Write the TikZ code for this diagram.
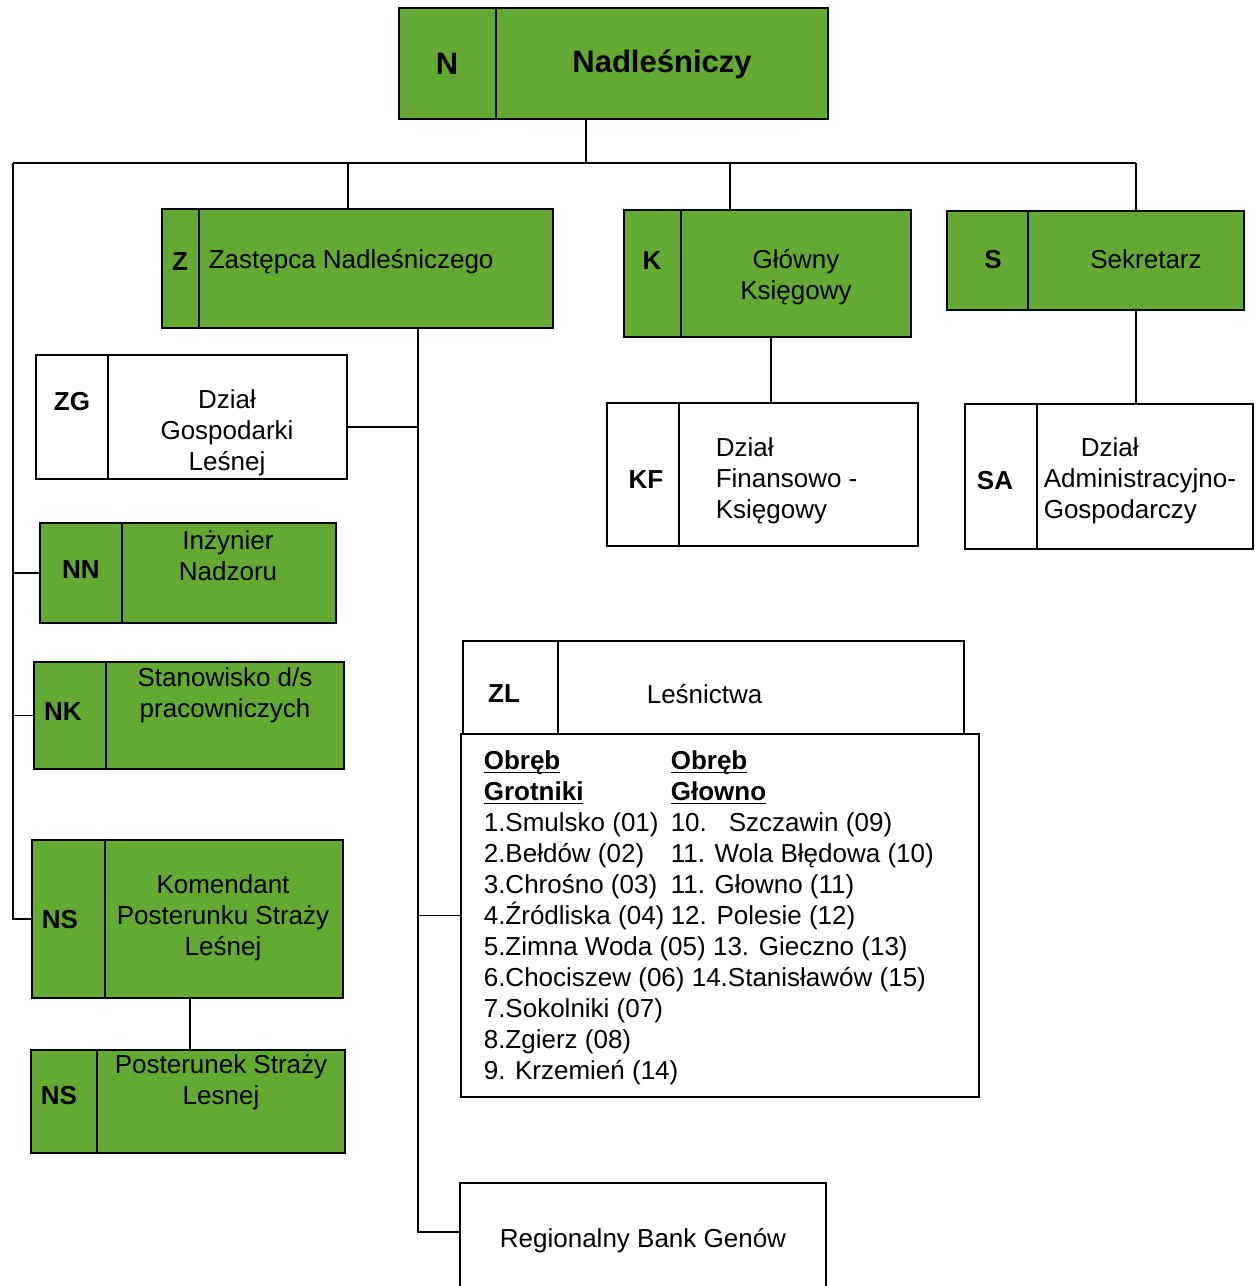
\documentclass[tikz,border=0pt]{standalone}
\usepackage{fontspec}
\setmainfont{Liberation Sans}
\definecolor{leafgreen}{RGB}{99,170,50}
\newcommand\orgfont{\fontsize{26}{31}\selectfont}
\newcommand\uln[1]{\setbox0\hbox{#1}\rlap{\rule[-3.5pt]{\wd0}{1.6pt}}\box0}
\tikzset{every picture/.style={line width=1.6pt}}
\tikzset{
  cell/.style={draw, anchor=north west, inner sep=0pt, outer sep=0pt},
  gcell/.style={cell, fill=leafgreen},
  code/.style={font=\orgfont\bfseries, inner sep=0pt},
  txt/.style={font=\orgfont, align=center, inner sep=0pt},
  head/.style={font=\fontsize{31}{37}\selectfont\bfseries, inner sep=0pt}
}
\begin{document}
\begin{tikzpicture}[x=1pt,y=1pt,yscale=-1,xscale=1]
  \path[use as bounding box] (0,0) rectangle (1257,1286);
  \clip (0,0) rectangle (1257,1286);

  %top level
  \node[gcell, minimum width=97pt, minimum height=111pt] (Nc) at (399,8) {};
  \node[gcell, minimum width=332pt, minimum height=111pt] (Nn) at (Nc.north east) {};
  \node[head] (Nct) at (447,64) {N};
  \node[head] (Nnt) at (662,64) {Nadleśniczy};

  \node[gcell, minimum width=37pt, minimum height=119pt] (Zc) at (162,209) {};
  \node[gcell, minimum width=354pt, minimum height=119pt] (Zn) at (Zc.north east) {};
  \node[code] (Zct) at (180,262) {Z};
  \node[txt, anchor=west] (Znt) at (208,262) {Zastępca Nadleśniczego};

  \node[gcell, minimum width=57pt, minimum height=127pt] (Kc) at (624,210) {};
  \node[gcell, minimum width=230pt, minimum height=127pt] (Kn) at (Kc.north east) {};
  \node[code] (Kct) at (652,261) {K};
  \node[txt] (Knt) at (796,277) {Główny\\Księgowy};

  \node[gcell, minimum width=81pt, minimum height=99pt] (Sc) at (947,211) {};
  \node[gcell, minimum width=216pt, minimum height=99pt] (Sn) at (Sc.north east) {};
  \node[code] (Sct) at (993,260) {S};
  \node[txt] (Snt) at (1146,259) {Sekretarz};

  %departments
  \node[cell, minimum width=72pt, minimum height=143pt] (KFc) at (607,403) {};
  \node[cell, minimum width=239pt, minimum height=143pt] (KFn) at (KFc.north east) {};
  \node[code] (KFct) at (646,480) {KF};
  \node[txt, align=left, anchor=west] (KFnt) at (715,481) {Dział\\Finansowo -\\Księgowy};

  \node[cell, minimum width=72pt, minimum height=145pt] (SAc) at (965,404) {};
  \node[cell, minimum width=216pt, minimum height=145pt] (SAn) at (SAc.north east) {};
  \node[code] (SAct) at (995,481) {SA};
  \node[txt, align=left, anchor=west] (SAnt) at (1043,481) {\hspace*{37pt}Dział\\Administracyjno-\\Gospodarczy};

  \node[cell, minimum width=72pt, minimum height=124pt] (ZGc) at (36,355) {};
  \node[cell, minimum width=239pt, minimum height=124pt] (ZGn) at (ZGc.north east) {};
  \node[code] (ZGct) at (72,402) {ZG};
  \node[txt] (ZGnt) at (227,433) {Dział\\Gospodarki\\Leśnej};

  %posts on the left
  \node[gcell, minimum width=82pt, minimum height=100pt] (NNc) at (40,523) {};
  \node[gcell, minimum width=214pt, minimum height=100pt] (NNn) at (NNc.north east) {};
  \node[code] (NNct) at (81,570) {NN};
  \node[txt] (NNnt) at (228,556) {Inżynier\\Nadzoru};

  \node[gcell, minimum width=72pt, minimum height=107pt] (NKc) at (34,662) {};
  \node[gcell, minimum width=238pt, minimum height=107pt] (NKn) at (NKc.north east) {};
  \node[code] (NKct) at (63,712) {NK};
  \node[txt] (NKnt) at (225,695) {Stanowisko d/s\\pracowniczych};

  \node[gcell, minimum width=73pt, minimum height=158pt] (NSac) at (32,840) {};
  \node[gcell, minimum width=238pt, minimum height=158pt] (NSan) at (NSac.north east) {};
  \node[code] (NSact) at (60,920) {NS};
  \node[txt] (NSant) at (223,918) {Komendant\\Posterunku Straży\\Leśnej};

  \node[gcell, minimum width=66pt, minimum height=103pt] (NSbc) at (31,1050) {};
  \node[gcell, minimum width=248pt, minimum height=103pt] (NSbn) at (NSbc.north east) {};
  \node[code] (NSbct) at (59,1096) {NS};
  \node[txt] (NSbnt) at (221,1082) {Posterunek Straży\\Lesnej};

  %forest districts
  \node[cell, minimum width=95pt, minimum height=93pt] (ZLc) at (463,641) {};
  \node[cell, minimum width=406pt, minimum height=93pt] (ZLn) at (ZLc.north east) {};
  \node[code] (ZLct) at (504,694) {ZL};
  \node[txt, anchor=west] (ZLnt) at (646,694) {Leśnictwa};
  \node[cell, minimum width=518pt, minimum height=363pt] (ZLlist) at (461,734) {};
  \node[txt, align=left, anchor=north west] (ZLlistt) at (483,750) {%
    \makebox[187pt][l]{\bfseries\uln{Obręb}}\textbf{\uln{Obręb}}\\
    \makebox[187pt][l]{\bfseries\uln{Grotniki}}\textbf{\uln{Głowno}}\\
    \makebox[187pt][l]{1.Smulsko (01)}10.\hspace{22pt}Szczawin (09)\\
    \makebox[187pt][l]{2.Bełdów (02)}11. Wola Błędowa (10)\\
    \makebox[187pt][l]{3.Chrośno (03)}11. Głowno (11)\\
    \makebox[187pt][l]{4.Źródliska (04)}12. Polesie (12)\\
    5.Zimna Woda (05) 13. Gieczno (13)\\
    6.Chociszew (06) 14.Stanisławów (15)\\
    7.Sokolniki (07)\\
    8.Zgierz (08)\\
    9. Krzemień (14)};

  \node[cell, minimum width=366pt, minimum height=120pt] (Bank) at (460,1183) {};
  \node[txt] (Bankt) at (643,1241) {Regionalny Bank Genów};

  %connectors
  \coordinate (busL) at (13,163);
  \coordinate (busR) at (1136,163);
  \coordinate (jN) at (586,163);
  \coordinate (jZ) at (348,163);
  \coordinate (jK) at (730,163);
  \coordinate (xKF) at (771,370);
  \coordinate (xNS) at (190,1020);
  \coordinate (zZG) at (418,427);
  \coordinate (zBot) at (418,1232);

  \draw (busL) -- (busR);
  \draw (Nn.south -| jN) -- (jN);
  \draw (jZ) -- (Zn.north -| jZ);
  \draw (jK) -- (Kn.north -| jK);
  \draw (busR) -- (Sn.north -| busR);
  \draw (Kn.south -| xKF) -- (KFn.north -| xKF);
  \draw (Sn.south -| busR) -- (SAn.north -| busR);

  \draw (busL) -- (NSac.west -| busL) -- (NSac.west);
  \draw (NNc.west -| busL) -- (NNc.west);
  \draw (NKc.west -| busL) -- (NKc.west);
  \draw (NSan.south -| xNS) -- (NSbn.north -| xNS);

  \draw (Zn.south -| zBot) -- (zBot) -- (zBot -| Bank.west);
  \draw (zZG) -- (zZG -| ZGn.east);
  \draw (ZLlist.west -| zBot) -- (ZLlist.west);

\end{tikzpicture}
\end{document}
